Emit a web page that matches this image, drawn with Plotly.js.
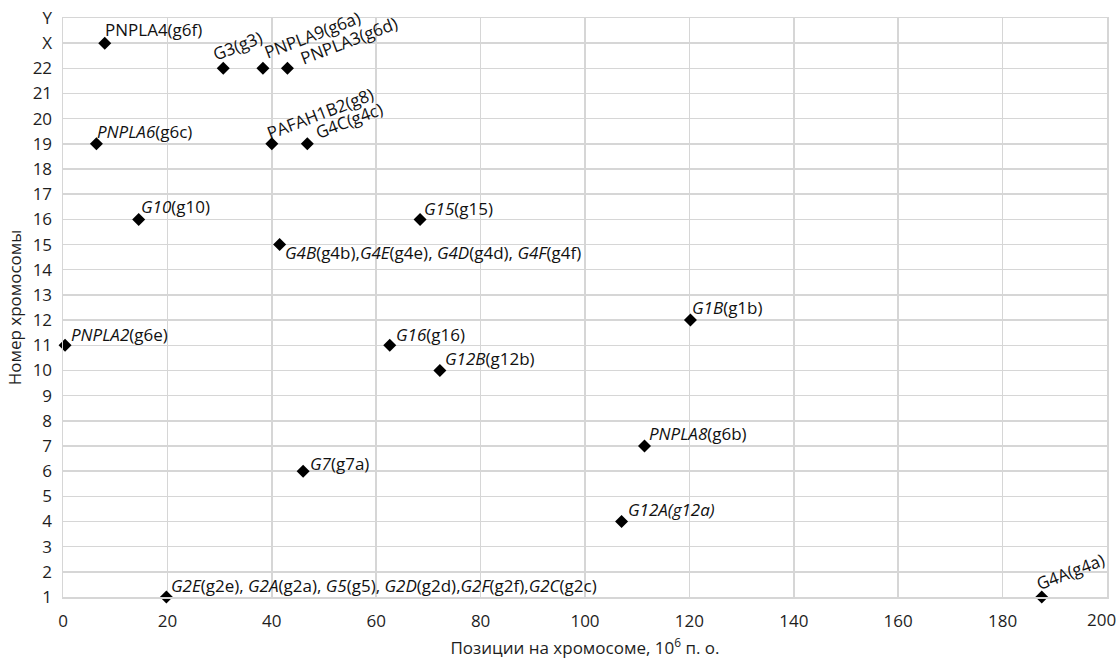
<!DOCTYPE html>
<html>
<head>
<meta charset="utf-8">
<script src="https://cdn.plot.ly/plotly-3.0.1.min.js"></script>
<style>
  html, body { margin: 0; padding: 0; background: #ffffff; }
  #chart { width: 1119px; height: 659px; }
</style>
</head>
<body>
<div id="chart"></div>
<script>
// ---- data ----
const chromosomeOrder = ['1','2','3','4','5','6','7','8','9','10','11','12','13','14','15','16','17','18','19','20','21','22','X','Y'];
const geneIds = ['PNPLA4','G3','PNPLA9','PNPLA3','PNPLA6','PAFAH1B2','G4C','G10','G15','G4B','G1B','PNPLA2','G16','G12B','PNPLA8','G7','G12A','G2E','G4A'];
const positionsMb = [8.0, 30.7, 38.3, 43.0, 6.4, 40.0, 46.8, 14.5, 68.4, 41.5, 120.2, 0.4, 62.6, 72.2, 111.4, 46.0, 107.0, 19.8, 187.5];
const chromosomes = ['X','22','22','22','19','19','19','16','16','15','12','11','11','10','7','6','4','1','1'];
const geneLabels = [
  'PNPLA4(g6f)',
  'G3(g3)',
  'PNPLA9(g6a)',
  'PNPLA3(g6d)',
  '<i>PNPLA6</i>(g6c)',
  'PAFAH1B2(g8)',
  'G4C(g4c)',
  '<i>G10</i>(g10)',
  '<i>G15</i>(g15)',
  '<i>G4B</i>(g4b),<i>G4E</i>(g4e), <i>G4D</i>(g4d), <i>G4F</i>(g4f)',
  '<i>G1B</i>(g1b)',
  '<i>PNPLA2</i>(g6e)',
  '<i>G16</i>(g16)',
  '<i>G12B</i>(g12b)',
  '<i>PNPLA8</i>(g6b)',
  '<i>G7</i>(g7a)',
  '<i>G12A(g12a)</i>',
  '<i>G2E</i>(g2e), <i>G2A</i>(g2a), <i>G5</i>(g5), <i>G2D</i>(g2d),<i>G2F</i>(g2f),<i>G2C</i>(g2c)',
  'G4A(g4a)'
];
const xTickVals = [0,20,40,60,80,100,120,140,160,180,200];

// ---- label placement (style only): [xshift, yshift, angle, yanchor] ----
const labelPlacement = {
  PNPLA4:   [-2, 0, 0, 'bottom'],
  G3:       [-16, 0, -21, 'bottom'],
  PNPLA9:   [-4, 2, -21, 'bottom'],
  PNPLA3:   [7, -4, -21, 'bottom'],
  PNPLA6:   [-1, -1, 0, 'bottom'],
  PAFAH1B2: [-11, -3, -21, 'bottom'],
  G4C:      [2, -2, -21, 'bottom'],
  G10:      [0, -1, 0, 'bottom'],
  G15:      [2, -3, 0, 'bottom'],
  G4B:      [3, -8, 0, 'middle'],
  G1B:      [0, -1, 0, 'bottom'],
  PNPLA2:   [4, -3, 0, 'bottom'],
  G16:      [4, -3, 0, 'bottom'],
  G12B:     [3, -2, 0, 'bottom'],
  PNPLA8:   [2, -1, 0, 'bottom'],
  G7:       [5, -6, 0, 'bottom'],
  G12A:     [4, -2, 0, 'bottom'],
  G2E:      [3, -2, 0, 'bottom'],
  G4A:      [-11, -1, -21, 'bottom']
};

const FONT = '"Open Sans", "Noto Sans", sans-serif';
const TXT = '#1e1e1e';
const FS = 17;

const trace = {
  type: 'scatter',
  mode: 'markers',
  x: positionsMb,
  y: chromosomes,
  marker: { symbol: 'diamond', size: 10, color: '#000000' },
  cliponaxis: false,
  hoverinfo: 'skip',
  showlegend: false
};

const annotations = geneIds.map((g, i) => {
  const p = labelPlacement[g];
  return {
    x: positionsMb[i],
    y: chromosomeOrder.indexOf(chromosomes[i]),
    xref: 'x', yref: 'y',
    text: geneLabels[i],
    showarrow: false,
    xanchor: 'left',
    yanchor: p[3],
    xshift: p[0],
    yshift: p[1],
    textangle: p[2],
    font: { family: FONT, size: FS, color: '#111111' }
  };
});

// last x tick label drawn right-aligned at its tick so it stays inside the page
const lastTick = xTickVals[xTickVals.length - 1];
annotations.push({
  x: lastTick, y: 0, xref: 'x', yref: 'paper',
  text: String(lastTick),
  showarrow: false,
  xanchor: 'right', yanchor: 'top',
  xshift: 11, yshift: -9,
  font: { family: FONT, size: FS, color: TXT }
});

const layout = {
  width: 1119,
  height: 659,
  margin: { l: 63, r: 12, t: 18, b: 62 },
  paper_bgcolor: '#ffffff',
  plot_bgcolor: '#ffffff',
  font: { family: FONT, size: FS, color: TXT },
  xaxis: {
    range: [0, 200],
    tickvals: xTickVals,
    ticktext: xTickVals.map(v => v === lastTick ? '' : String(v)),
    showgrid: true,
    gridcolor: '#d6d6d6',
    gridwidth: 1.5,
    zeroline: false,
    showline: true,
    mirror: true,
    linecolor: '#d6d6d6',
    linewidth: 1.5,
    ticks: '',
    ticklabeloverflow: 'allow',
    ticklabelstandoff: 8,
    tickfont: { family: FONT, size: FS, color: TXT },
    title: { text: 'Позиции на хромосоме, 10<sup>6</sup> п. о.', font: { family: FONT, size: FS, color: TXT }, standoff: 18 }
  },
  yaxis: {
    type: 'category',
    categoryorder: 'array',
    categoryarray: chromosomeOrder,
    range: [0, chromosomeOrder.length - 1],
    showgrid: true,
    gridcolor: '#d6d6d6',
    gridwidth: 1.5,
    zeroline: false,
    showline: true,
    mirror: true,
    linecolor: '#d6d6d6',
    linewidth: 1.5,
    ticks: '',
    ticklabeloverflow: 'allow',
    ticklabelstandoff: 6,
    tickfont: { family: FONT, size: FS, color: TXT },
    title: { text: 'Номер хромосомы', font: { family: FONT, size: FS, color: TXT }, standoff: 6 }
  },
  annotations: annotations
};

Plotly.newPlot('chart', [trace], layout, { displayModeBar: false, staticPlot: true });
</script>
</body>
</html>
